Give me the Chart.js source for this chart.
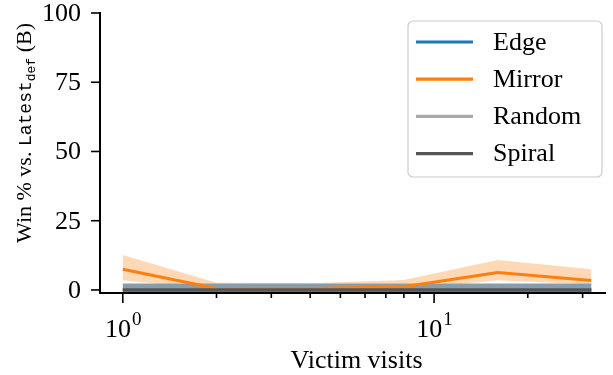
<!DOCTYPE html>
<html>
<head>
<meta charset="utf-8">
<script src="https://cdn.jsdelivr.net/npm/chart.js@4"></script>
<style>
  html, body { margin: 0; padding: 0; background: #fff; }
  #chart { display: block; }
</style>
</head>
<body>
<canvas id="chart" width="613" height="375"></canvas>
<script>
// data
const visits = [1, 2, 4, 8, 16, 32];
const edgeMean = [0, 0, 0, 0, 0, 0];
const edgeLow = [0, 0, 0, 0, 0, 0];
const edgeHigh = [2.2, 2.2, 2.2, 2.2, 2.2, 2.2];
const mirrorMean = [7.5, 0.5, 0.5, 1.2, 6.3, 3.4];
const mirrorLow = [3.5, 0, 0, 0, 3.5, 2.0];
const mirrorHigh = [12.6, 2.6, 2.4, 3.6, 10.8, 7.5];
const randomMean = [1.45, 1.45, 1.45, 1.45, 1.45, 1.45];
const spiralMean = [0, 0, 0, 0, 0, 0];

const yTicks = [0, 25, 50, 75, 100];
const xMajorTicks = [1, 10];
const xMajorLabels = ['0', '1'];
const xMinorTicks = [2, 3, 4, 5, 6, 7, 8, 9, 20, 30];

const legendNames = ['Edge', 'Mirror', 'Random', 'Spiral'];
const legendColors = ['#1f77b4', '#ff7f0e', '#aaaaaa', '#555555'];

const SERIF = '"Liberation Serif", "DejaVu Serif", serif';
const MONO = '"Liberation Mono", "DejaVu Sans Mono", monospace';

function pts(ys) {
  return visits.map((x, i) => ({ x: x, y: ys[i] }));
}

function lineDs(label, ys, color, width, order) {
  return {
    label: label,
    data: pts(ys),
    borderColor: color,
    borderWidth: width,
    pointRadius: 0,
    tension: 0,
    fill: false,
    order: order
  };
}

function bandLow(ys) {
  return {
    label: '_low',
    data: pts(ys),
    borderWidth: 0,
    borderColor: 'rgba(0,0,0,0)',
    pointRadius: 0,
    fill: false,
    order: 9
  };
}

function bandHigh(ys, target, color, order) {
  return {
    label: '_high',
    data: pts(ys),
    borderWidth: 0,
    borderColor: 'rgba(0,0,0,0)',
    backgroundColor: color,
    pointRadius: 0,
    fill: { target: target },
    order: order
  };
}

const datasets = [
  bandLow(mirrorLow),                                          // 0
  bandHigh(mirrorHigh, 0, 'rgba(255,127,14,0.3)', 6),          // 1
  lineDs('Edge', edgeMean, legendColors[0], 3, 5),             // 2
  lineDs('Random', randomMean, legendColors[2], 5, 4),         // 3
  bandLow(edgeLow),                                            // 4
  bandHigh(edgeHigh, 4, 'rgba(31,119,180,0.25)', 3),           // 5
  lineDs('Mirror', mirrorMean, legendColors[1], 3, 1),         // 6
  lineDs('Spiral', spiralMean, legendColors[3], 3.5, 0)        // 7
];

// ticks, tick labels, axis titles and legend
const decorations = {
  id: 'decorations',
  afterDraw(chart) {
    const ctx = chart.ctx;
    const xs = chart.scales.x;
    const ys = chart.scales.y;
    const area = chart.chartArea;
    ctx.save();
    ctx.strokeStyle = '#000';
    ctx.fillStyle = '#000';
    ctx.lineWidth = 1.6;

    // y ticks
    ctx.font = '26px ' + SERIF;
    ctx.textAlign = 'right';
    ctx.textBaseline = 'middle';
    yTicks.forEach(v => {
      const py = ys.getPixelForValue(v);
      ctx.beginPath();
      ctx.moveTo(area.left - 9, py);
      ctx.lineTo(area.left, py);
      ctx.stroke();
      ctx.fillText(String(v), area.left - 19, py + 1);
    });

    // x ticks
    const axisY = area.bottom;
    xMinorTicks.forEach(v => {
      const px = xs.getPixelForValue(v);
      ctx.beginPath();
      ctx.moveTo(px, axisY);
      ctx.lineTo(px, axisY + 5);
      ctx.stroke();
    });
    xMajorTicks.forEach((v, i) => {
      const px = xs.getPixelForValue(v);
      ctx.beginPath();
      ctx.moveTo(px, axisY);
      ctx.lineTo(px, axisY + 10);
      ctx.stroke();
      ctx.textBaseline = 'alphabetic';
      ctx.textAlign = 'left';
      ctx.font = '26px ' + SERIF;
      const wBase = ctx.measureText('10').width;
      ctx.font = '19px ' + SERIF;
      const wSup = ctx.measureText(xMajorLabels[i]).width;
      const x0 = px - (wBase + wSup) / 2;
      ctx.font = '26px ' + SERIF;
      ctx.fillText('10', x0, 337);
      ctx.font = '19px ' + SERIF;
      ctx.fillText(xMajorLabels[i], x0 + wBase + 1, 325);
    });

    // x title
    ctx.font = '26px ' + SERIF;
    ctx.textAlign = 'center';
    ctx.textBaseline = 'alphabetic';
    ctx.fillText('Victim visits', (area.left + area.right) / 2 + 4, 368);

    // y title: Win % vs. Latest_def (B)
    const parts = [
      { t: 'Win % vs. ', f: '22px ' + SERIF, dy: 0 },
      { t: 'Latest', f: '18px ' + MONO, dy: 0 },
      { t: 'def', f: '13px ' + MONO, dy: 4 },
      { t: ' (B)', f: '22px ' + SERIF, dy: 0 }
    ];
    let total = 0;
    parts.forEach(p => { ctx.font = p.f; p.w = ctx.measureText(p.t).width; total += p.w; });
    ctx.translate(31, 133);
    ctx.rotate(-Math.PI / 2);
    ctx.textAlign = 'left';
    let cx = -total / 2;
    parts.forEach(p => {
      ctx.font = p.f;
      ctx.fillText(p.t, cx, p.dy);
      cx += p.w;
    });
    ctx.setTransform(1, 0, 0, 1, 0, 0);

    // legend
    const bx = 408, by = 21, bw = 194, bh = 156, r = 5;
    ctx.beginPath();
    ctx.moveTo(bx + r, by);
    ctx.arcTo(bx + bw, by, bx + bw, by + bh, r);
    ctx.arcTo(bx + bw, by + bh, bx, by + bh, r);
    ctx.arcTo(bx, by + bh, bx, by, r);
    ctx.arcTo(bx, by, bx + bw, by, r);
    ctx.closePath();
    ctx.fillStyle = 'rgba(255,255,255,0.85)';
    ctx.fill();
    ctx.strokeStyle = '#cccccc';
    ctx.lineWidth = 1.2;
    ctx.stroke();
    ctx.font = '26px ' + SERIF;
    ctx.textAlign = 'left';
    ctx.textBaseline = 'middle';
    legendNames.forEach((name, i) => {
      const ly = 42 + i * 37.2;
      ctx.strokeStyle = legendColors[i];
      ctx.lineWidth = 3.2;
      ctx.beginPath();
      ctx.moveTo(416, ly);
      ctx.lineTo(473, ly);
      ctx.stroke();
      ctx.fillStyle = '#000';
      ctx.fillText(name, 493, ly + 1);
    });
    ctx.restore();
  }
};

new Chart(document.getElementById('chart'), {
  type: 'line',
  data: { datasets: datasets },
  options: {
    responsive: false,
    animation: false,
    devicePixelRatio: 1,
    layout: { padding: { top: 13, right: 8, left: 0, bottom: 0 } },
    plugins: { legend: { display: false }, tooltip: { enabled: false } },
    scales: {
      x: {
        type: 'logarithmic',
        min: 0.845,
        max: 35.4,
        grid: { display: false },
        border: { display: true, color: '#000', width: 2 },
        ticks: { display: false },
        afterFit: s => { s.height = 82; }
      },
      y: {
        type: 'linear',
        min: -1.1,
        max: 100,
        grid: { display: false },
        border: { display: true, color: '#000', width: 2 },
        ticks: { display: false },
        afterFit: s => { s.width = 100; }
      }
    }
  },
  plugins: [decorations]
});
</script>
</body>
</html>
